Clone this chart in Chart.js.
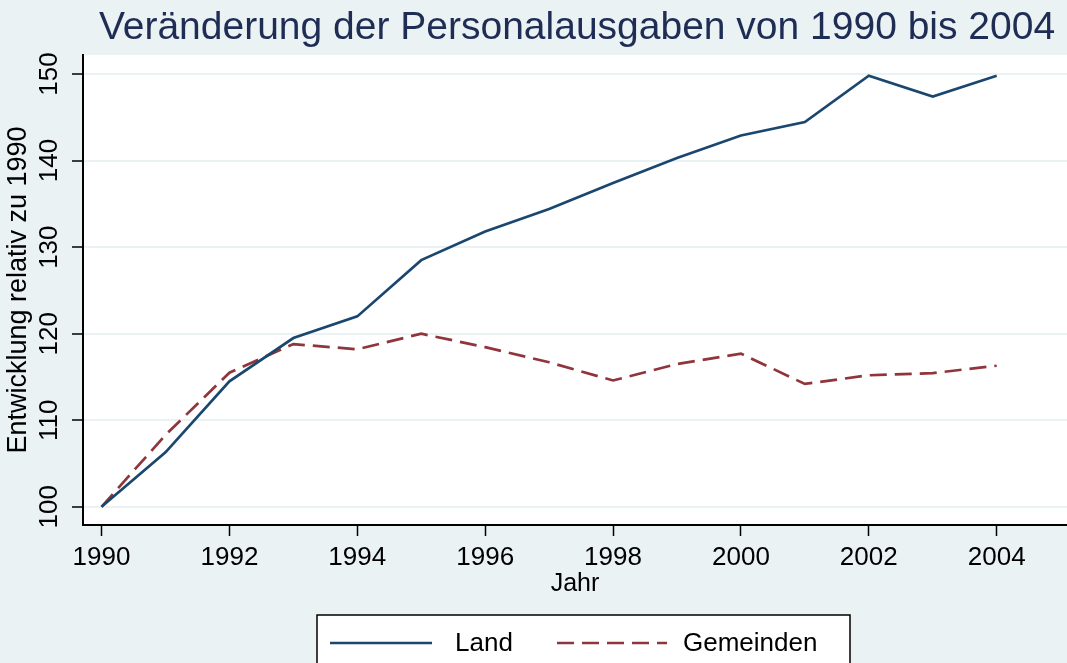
<!DOCTYPE html>
<html>
<head>
<meta charset="utf-8">
<script src="https://cdn.jsdelivr.net/npm/chart.js@4"></script>
<style>
    html, body { margin: 0; padding: 0; background: #eaf2f3; }
</style>
</head>
<body>
<canvas id="myChart" width="1067" height="663"></canvas>
<script>
const jahre = [1990, 1991, 1992, 1993, 1994, 1995, 1996, 1997, 1998, 1999, 2000, 2001, 2002, 2003, 2004];
const land = [100, 106.3, 114.5, 119.5, 122.0, 128.5, 131.8, 134.4, 137.4, 140.3, 142.9, 144.45, 149.8, 147.4, 149.8];
const gemeinden = [100, 108.3, 115.5, 118.8, 118.2, 120.0, 118.45, 116.7, 114.6, 116.5, 117.7, 114.2, 115.2, 115.45, 116.3];
const xTicks = [1990, 1992, 1994, 1996, 1998, 2000, 2002, 2004];
const yTicks = [100, 110, 120, 130, 140, 150];
const titel = 'Veränderung der Personalausgaben von 1990 bis 2004';

const schrift = '"Liberation Sans", Arial, sans-serif';

// Hintergrund, Titel und Legende (Stata-Stil)
const stataLook = {
    id: 'stataLook',
    beforeDraw(chart) {
        const {ctx, chartArea: a} = chart;
        ctx.save();
        ctx.fillStyle = '#eaf2f3';
        ctx.fillRect(0, 0, chart.width, chart.height);
        ctx.fillStyle = '#ffffff';
        ctx.fillRect(a.left, a.top, a.right - a.left, a.bottom - a.top);
        ctx.restore();
    },
    afterDraw(chart) {
        const {ctx, chartArea: a} = chart;
        ctx.save();
        ctx.font = '39px ' + schrift;
        ctx.fillStyle = '#1f2d55';
        ctx.textAlign = 'center';
        ctx.textBaseline = 'middle';
        ctx.fillText(titel, (a.left + a.right) / 2 + 2, 28);

        // Legende
        ctx.fillStyle = '#ffffff';
        ctx.strokeStyle = '#000000';
        ctx.lineWidth = 1.5;
        ctx.fillRect(317, 615, 533, 60);
        ctx.strokeRect(317, 615, 533, 60);
        const eintraege = [{x: 330, w: 102, tx: 455}, {x: 557, w: 110, tx: 683}];
        ctx.font = '26px ' + schrift;
        ctx.textAlign = 'left';
        chart.data.datasets.forEach((ds, i) => {
            const e = eintraege[i];
            ctx.strokeStyle = ds.borderColor;
            ctx.lineWidth = ds.borderWidth;
            ctx.setLineDash(ds.borderDash || []);
            ctx.beginPath();
            ctx.moveTo(e.x, 643);
            ctx.lineTo(e.x + e.w, 643);
            ctx.stroke();
            ctx.setLineDash([]);
            ctx.fillStyle = '#000000';
            ctx.fillText(ds.label, e.tx, 644);
        });
        ctx.restore();
    }
};

const ctx = document.querySelector('#myChart');
new Chart(ctx, {
    type: 'line',
    data: {
        datasets: [
            {
                label: 'Land',
                data: jahre.map((j, i) => ({x: j, y: land[i]})),
                borderColor: '#1a476f',
                borderWidth: 2.7,
                pointRadius: 0,
                tension: 0
            },
            {
                label: 'Gemeinden',
                data: jahre.map((j, i) => ({x: j, y: gemeinden[i]})),
                borderColor: '#90353b',
                borderWidth: 2.7,
                borderDash: [17, 8],
                pointRadius: 0,
                tension: 0
            }
        ]
    },
    options: {
        responsive: false,
        animation: false,
        layout: {
            padding: {top: 55, right: 0, bottom: 0, left: 0}
        },
        plugins: {
            legend: {display: false},
            title: {display: false},
            tooltip: {enabled: false}
        },
        scales: {
            x: {
                type: 'linear',
                min: 1989.71,
                max: 2005.1,
                afterBuildTicks: axis => {
                    axis.ticks = xTicks.map(v => ({value: v}));
                },
                afterFit: scale => {
                    scale.height = 138;
                },
                ticks: {
                    color: '#000',
                    padding: 6,
                    maxRotation: 0,
                    autoSkip: false,
                    font: {family: schrift, size: 26},
                    callback: v => String(v)
                },
                grid: {
                    drawOnChartArea: false,
                    tickLength: 11,
                    tickColor: '#000',
                    tickWidth: 1.5
                },
                border: {color: '#000', width: 2},
                title: {
                    display: true,
                    text: 'Jahr',
                    color: '#000',
                    font: {family: schrift, size: 25},
                    padding: {top: 0, bottom: 64}
                }
            },
            y: {
                min: 97.9,
                max: 152.2,
                afterBuildTicks: axis => {
                    axis.ticks = yTicks.map(v => ({value: v}));
                },
                afterFit: scale => {
                    scale.width = 83;
                },
                ticks: {
                    color: '#000',
                    padding: 0,
                    minRotation: 90,
                    maxRotation: 90,
                    crossAlign: 'center',
                    font: {family: schrift, size: 26},
                    callback: v => String(v)
                },
                grid: {
                    color: '#eaf2f3',
                    lineWidth: 2,
                    tickLength: 11,
                    tickColor: '#000',
                    tickWidth: 1.5
                },
                border: {color: '#000', width: 2},
                title: {
                    display: true,
                    text: 'Entwicklung relativ zu 1990',
                    color: '#000',
                    font: {family: schrift, size: 27},
                    padding: {top: 2, bottom: 0}
                }
            }
        }
    },
    plugins: [stataLook]
});
</script>
</body>
</html>
